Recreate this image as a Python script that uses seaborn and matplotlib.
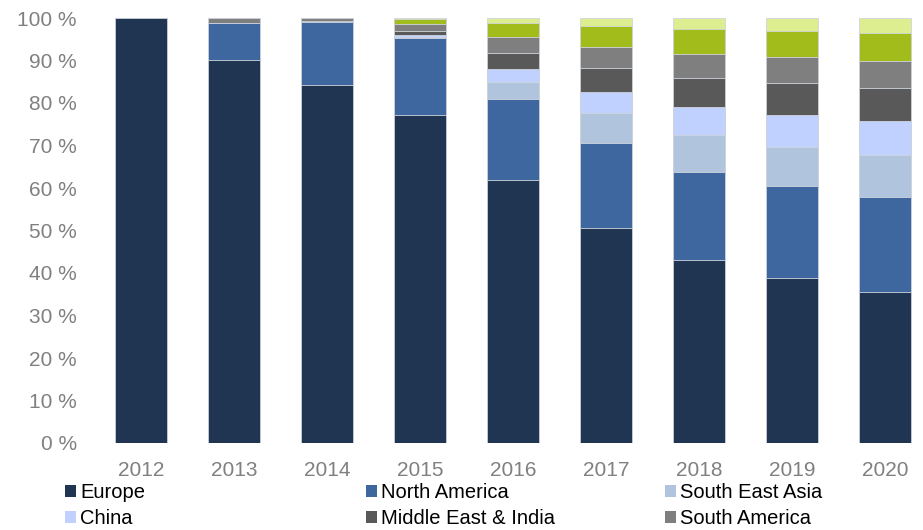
import matplotlib
matplotlib.use("Agg")
import matplotlib.pyplot as plt
from matplotlib.patches import Patch
import numpy as np
import seaborn as sns

years = ["2012", "2013", "2014", "2015", "2016", "2017", "2018", "2019", "2020"]
europe        = [100.0, 90.2, 84.2, 77.2, 61.9, 50.6, 43.1, 38.8, 35.5]
north_america = [0.0,    8.6, 14.9, 18.0, 19.0, 20.0, 20.7, 21.7, 22.4]
south_east_asia = [0.0,  0.0,  0.0,  0.4,  4.0,  7.0,  8.7,  9.1,  9.9]
china         = [0.0,    0.0,  0.0,  0.5,  3.1,  4.9,  6.6,  7.6,  8.0]
middle_east_india = [0.0, 0.0, 0.3,  0.8,  3.7,  5.8,  6.9,  7.4,  7.7]
south_america = [0.0,    1.2,  0.6,  1.7,  3.9,  4.9,  5.6,  6.2,  6.5]
africa        = [0.0,    0.0,  0.0,  1.2,  3.3,  4.9,  5.9,  6.2,  6.4]
oceania       = [0.0,    0.0,  0.0,  0.2,  1.1,  1.9,  2.5,  3.0,  3.6]

series_names = ["Europe", "North America", "South East Asia", "China",
                "Middle East & India", "South America", "Africa", "Oceania"]
series_values = [europe, north_america, south_east_asia, china,
                 middle_east_india, south_america, africa, oceania]
colors = ["#1F3552", "#3E67A0", "#B0C4DE", "#C0D0FF",
          "#595959", "#7F7F7F", "#A2BD1B", "#DDEE90"]
legend_rows = [["Europe", "China"], ["North America", "Middle East & India"],
               ["South East Asia", "South America"]]

sns.set_theme(style="white")
plt.rcParams["font.family"] = ["Liberation Sans", "DejaVu Sans"]

fig = plt.figure(figsize=(9.23, 5.30), dpi=100)
ax = fig.add_axes([95 / 923, 87 / 530, 828 / 923, 425 / 530])

cum = np.cumsum(np.array(series_values), axis=0)
# draw tallest cumulative first so lower segments overlay
for i in range(len(series_names) - 1, -1, -1):
    sns.barplot(x=years, y=cum[i], color=colors[i], width=0.56, ax=ax,
                saturation=1, edgecolor="#d0d5dd", linewidth=0.6)

ax.set_xlim(-0.5, 8.41)
ax.set_ylim(0, 100)
ax.set_yticks(range(0, 101, 10))
ax.set_yticklabels([f"{v} %" for v in range(0, 101, 10)])
ax.set_xlabel("")
ax.set_ylabel("")
for s in ax.spines.values():
    s.set_visible(False)
ax.tick_params(axis="y", length=0, pad=13, labelsize=15, labelcolor="#808080")
ax.tick_params(axis="x", length=0, pad=13, labelsize=15, labelcolor="#808080")

color_map = dict(zip(series_names, colors))
col_x = [65, 366, 665]
for cx, names in zip(col_x, legend_rows):
    handles = [Patch(facecolor=color_map[n], edgecolor="none") for n in names]
    fig.legend(handles, names, loc="upper left",
               bbox_to_anchor=(cx / 923, (530 - 483) / 530),
               frameon=False, borderpad=0, borderaxespad=0,
               handlelength=0.55, handleheight=0.55, handletextpad=0.2,
               labelspacing=0.35, fontsize=14.5, labelcolor="black")

fig.savefig("out.png", dpi=100)
